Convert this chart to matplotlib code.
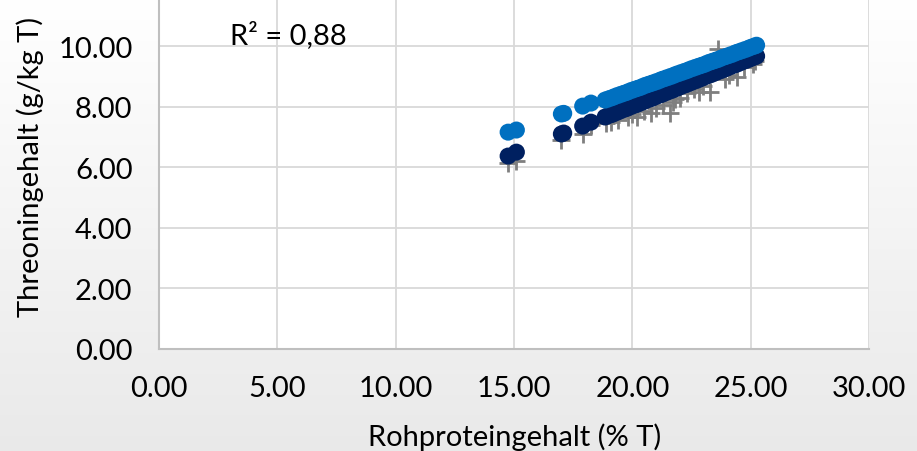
#!/usr/bin/env python3
"""Threonine vs crude protein scatter (measured vs two predictions)."""

import numpy as np
import matplotlib
matplotlib.use('Agg')
import matplotlib.pyplot as plt

plt.rcParams['font.family'] = ['Lato', 'DejaVu Sans']

# measured values (grey crosses)
meas_protein = [14.75, 15.1, 17.0, 17.9, 18.25, 18.9, 19.1, 19.4, 19.8, 20.0,
                20.2, 20.5, 20.8, 21.0, 21.3, 21.6, 21.7, 21.8, 22.0, 22.3,
                22.6, 22.8, 23.0, 23.3, 23.6, 23.9, 24.1, 24.4, 24.7, 25.1, 25.2]
meas_thr = [6.15, 6.2, 6.9, 7.1, 7.4, 7.45, 7.5, 7.55, 7.65, 7.75,
            7.66, 7.85, 7.8, 7.95, 8.05, 7.8, 8.15, 8.25, 8.3, 8.45,
            8.6, 8.5, 8.7, 8.5, 9.9, 8.9, 9.05, 8.97, 9.3, 9.4, 9.5]

# predicted values (two equations)
protein = [14.75, 15.1, 17.0, 17.1, 17.9, 18.25, 18.85, 19.0, 19.15, 19.3,
           19.45, 19.6, 19.75, 19.9, 20.05, 20.2, 20.35, 20.5, 20.65, 20.8,
           20.95, 21.1, 21.25, 21.4, 21.55, 21.7, 21.85, 22.0, 22.15, 22.3,
           22.45, 22.6, 22.75, 22.9, 23.05, 23.2, 23.35, 23.5, 23.65, 23.8,
           23.95, 24.1, 24.25, 24.4, 24.55, 24.7, 24.85, 25.0, 25.15, 25.25]
thr_dark = [6.37, 6.5, 7.1, 7.13, 7.36, 7.49, 7.66, 7.71, 7.75, 7.80,
            7.85, 7.90, 7.94, 7.99, 8.04, 8.08, 8.13, 8.18, 8.23, 8.27,
            8.32, 8.37, 8.41, 8.46, 8.51, 8.55, 8.60, 8.65, 8.70, 8.74,
            8.79, 8.84, 8.88, 8.93, 8.98, 9.03, 9.07, 9.12, 9.17, 9.21,
            9.26, 9.31, 9.36, 9.40, 9.45, 9.50, 9.54, 9.59, 9.64, 9.67]
thr_light = [7.16, 7.23, 7.76, 7.78, 8.02, 8.12, 8.22, 8.26, 8.30, 8.35,
             8.39, 8.43, 8.47, 8.52, 8.56, 8.60, 8.64, 8.69, 8.73, 8.77,
             8.81, 8.85, 8.90, 8.94, 8.98, 9.02, 9.07, 9.11, 9.15, 9.19,
             9.24, 9.28, 9.32, 9.36, 9.40, 9.45, 9.49, 9.53, 9.57, 9.62,
             9.66, 9.70, 9.74, 9.79, 9.83, 9.87, 9.91, 9.96, 10.00, 10.03]

xticks = [0, 5, 10, 15, 20, 25, 30]
yticks = [0, 2, 4, 6, 8, 10]

fig = plt.figure(figsize=(9.17, 4.52), dpi=100)

# light grey gradient behind everything
bg = fig.add_axes([0, 0, 1, 1], zorder=-10)
grad = np.linspace(1.0, 0.915, 256).reshape(-1, 1)
bg.imshow(np.dstack([grad, grad, grad]), aspect='auto', extent=[0, 1, 0, 1])
bg.axis('off')

ax = fig.add_axes([0.1734, 0.2257, 0.7743, 0.804])
ax.set_facecolor('white')

ax.scatter(meas_protein, meas_thr, marker='+', s=160, color='#7f7f7f',
           linewidths=2.0, zorder=3)
ax.scatter(protein, thr_dark, s=150, color='#002060', edgecolors='none', zorder=4)
ax.scatter(protein, thr_light, s=150, color='#0070c0', edgecolors='none', zorder=5)

ax.set_xlim(0, 30)
ax.set_ylim(0, 12)
ax.set_xticks(xticks)
ax.set_yticks(yticks)
ax.set_xticklabels([f'{v:.2f}' for v in xticks])
ax.set_yticklabels([f'{v:.2f}' for v in yticks])
ax.grid(True, color='#d9d9d9', linewidth=1.3, zorder=0)
ax.set_axisbelow(True)
ax.tick_params(length=0, labelsize=21, pad=19, colors='black')
ax.tick_params(axis='x', pad=19)
for s in ['top', 'right']:
    ax.spines[s].set_visible(False)
for s in ['left', 'bottom']:
    ax.spines[s].set_color('#bfbfbf')
    ax.spines[s].set_linewidth(1.5)

ax.text(3.0, 10.4, 'R² = 0,88', fontsize=21, va='center', ha='left')

fig.text(0.5616, 0.033, 'Rohproteingehalt (% T)', fontsize=21, ha='center', va='center')
fig.text(0.033, 0.63, 'Threoningehalt (g/kg T)', fontsize=21, ha='center',
         va='center', rotation=90)

fig.savefig('out.png', dpi=100)
